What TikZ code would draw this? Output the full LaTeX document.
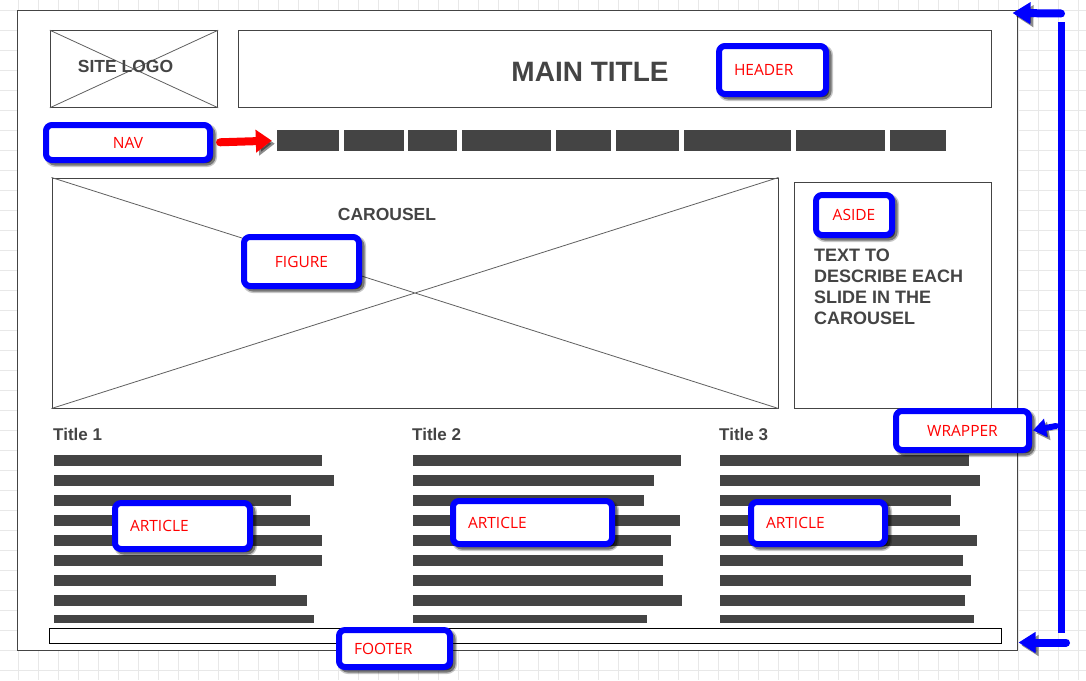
\documentclass[tikz,border=0pt]{standalone}
\usepackage{fontspec}
\setmainfont{Liberation Sans}
\newfontfamily\calloutfont{Open Sans}
\usetikzlibrary{arrows.meta,shadows}
\definecolor{wireGray}{HTML}{444444}
\definecolor{gridGray}{HTML}{E8E8E8}
\definecolor{callBlue}{HTML}{0000FF}
\definecolor{callRed}{HTML}{FF0000}

\begin{document}
\begin{tikzpicture}[x=1pt,y=-1pt,
        wire box/.style={draw=wireGray,line width=1pt,inner sep=0pt,fill=white},
        cross line/.style={draw=wireGray!85,line width=.8pt},
        wire text/.style={font=\bfseries\fontsize{17.5}{21}\selectfont,text=wireGray,inner sep=0pt},
        nav bar/.style={fill=wireGray,inner sep=0pt,minimum height=21pt},
        text bar/.style={fill=wireGray},
        call out/.style={draw=callBlue,line width=6pt,rounded corners=6pt,fill=white,
            font=\calloutfont\fontsize{15.5}{18}\selectfont,text=callRed,inner sep=0pt,
            drop shadow={shadow xshift=3pt,shadow yshift=-3pt,opacity=.22,fill=black,draw=black,line width=8pt},
            drop shadow={shadow xshift=3pt,shadow yshift=-3pt,opacity=.4,fill=black,draw=black,line width=5pt}},
        left call/.style={align=left,text width=#1,inner xsep=15pt},
        fat arrow/.style={line width=8pt,line cap=round,
            preaction={draw=black,opacity=.45,transform canvas={xshift=3pt,yshift=-3pt}}},
        grid line/.style={draw=gridGray,line width=1pt}]

    \useasboundingbox (0,0) rectangle (1086,680);
    \fill[white] (0,0) rectangle (1086,680);

    % background grid
    \foreach \x in {18,38,...,1078}
        \draw[grid line] (\x,0) -- (\x,680);
    \foreach \y in {10,30,...,670}
        \draw[grid line] (0,\y) -- (1086,\y);

    % page
    \node[wire box,minimum width=1000pt,minimum height=639.5pt] (wrap) at (517,330.25) {};
    \node[wire box,minimum width=167.4pt,minimum height=76.6pt] (logo) at (134,69) {};
    \node[wire box,minimum width=752.7pt,minimum height=76.6pt] (hdr) at (614.65,69) {};
    \node[wire box,minimum width=726pt,minimum height=230pt] (car) at (415,293) {};
    \node[wire box,minimum width=196.7pt,minimum height=225.3pt] (aside) at (892.65,295.35) {};
    \node[wire box,draw=black,minimum width=952.4pt,minimum height=15pt] (foot) at (525.5,635.8) {};

    \draw[cross line] (logo.north west) -- (logo.south east) (logo.south west) -- (logo.north east);
    \draw[cross line] (car.north west) -- (car.south east) (car.south west) -- (car.north east);

    \node[wire text] (logotxt) at (125.5,66.5) {SITE LOGO};
    \node[wire text,font=\bfseries\fontsize{28}{30}\selectfont] (title) at (590,71.5) {MAIN TITLE};
    \node[wire text] (cartxt) at (387,214.5) {CAROUSEL};
    \node[wire text,font=\bfseries\fontsize{18}{21}\selectfont,anchor=north west,align=left] (asidetxt) at (814,249)
        {TEXT TO\\DESCRIBE EACH\\SLIDE IN THE\\CAROUSEL};

    % menu
    \foreach \a/\b [count=\i] in {277/339,344/404,408/457,462/551,556/611,616/679,684/791,796/885,890/946}
        \node[nav bar,minimum width={(\b-\a)*1pt}] (nav\i) at ({(\a+\b)/2},140.5) {};

    % articles
    \node[wire text,font=\bfseries\fontsize{17}{20}\selectfont,anchor=west] (t1) at (53,434) {Title 1};
    \node[wire text,font=\bfseries\fontsize{17}{20}\selectfont,anchor=west] (t2) at (412,434) {Title 2};
    \node[wire text,font=\bfseries\fontsize{17}{20}\selectfont,anchor=west] (t3) at (719,434) {Title 3};
    \foreach \xs/\ends in {54/{322,334,291,310,322,322,276,307,314},
                           413/{681,654,644,680,671,663,663,682,647},
                           720/{969,980,951,960,977,963,971,965,974}}
        \foreach \xe [count=\r] in \ends
            \fill[text bar] (\xs,{435+20*\r}) rectangle (\xe,{min(445.7+20*\r,622.7)});

    % callouts
    \node[call out,left call=77pt,minimum height=48pt] (hdrcall) at (772.5,70) {HEADER};
    \node[call out,minimum width=164pt,minimum height=35pt] (navcall) at (128,142.5) {NAV};
    \node[call out,minimum width=115pt,minimum height=49pt] (figcall) at (301.5,261.5) {FIGURE};
    \node[call out,minimum width=76pt,minimum height=40pt] (asidecall) at (854,215) {ASIDE};
    \node[call out,minimum width=133pt,minimum height=39pt] (wrapcall) at (962.5,430.5) {WRAPPER};
    \node[call out,left call=105pt,minimum height=46pt] (art1) at (182.5,526) {ARTICLE};
    \node[call out,left call=129pt,minimum height=43pt] (art2) at (532.5,522.5) {ARTICLE};
    \node[call out,left call=104pt,minimum height=42pt] (art3) at (818,523) {ARTICLE};
    \node[call out,left call=81pt,minimum height=37pt] (footcall) at (394.5,648.5) {FOOTER};

    % pointers
    \draw[fat arrow,callRed,-{Triangle[length=16pt,width=22pt]},shorten <=7pt,shorten >=5pt]
        (navcall.east) -- (nav1.west);

    \coordinate (brtop) at (1061.5,22);
    \coordinate (brbot) at (1061.5,633);
    \coordinate (toptail) at (1061,13.5);
    \coordinate (midtail) at (1056,426);
    \coordinate (bottail) at (1066,642.5);
    \draw[callBlue,line width=6.5pt] (brtop) -- (brbot);
    \draw[fat arrow,callBlue,-{Triangle[length=18pt,width=21pt]}]
        (toptail) -- ([xshift=-5pt,yshift=-3pt]wrap.north east);
    \draw[fat arrow,callBlue,line width=6pt,-{Triangle[length=13pt,width=18pt]},shorten >=1pt]
        (midtail) -- (wrapcall.east);
    \draw[fat arrow,callBlue,-{Triangle[length=17pt,width=20pt]}]
        (bottail) -- ([xshift=1pt,yshift=8pt]wrap.south east);
\end{tikzpicture}
\end{document}
